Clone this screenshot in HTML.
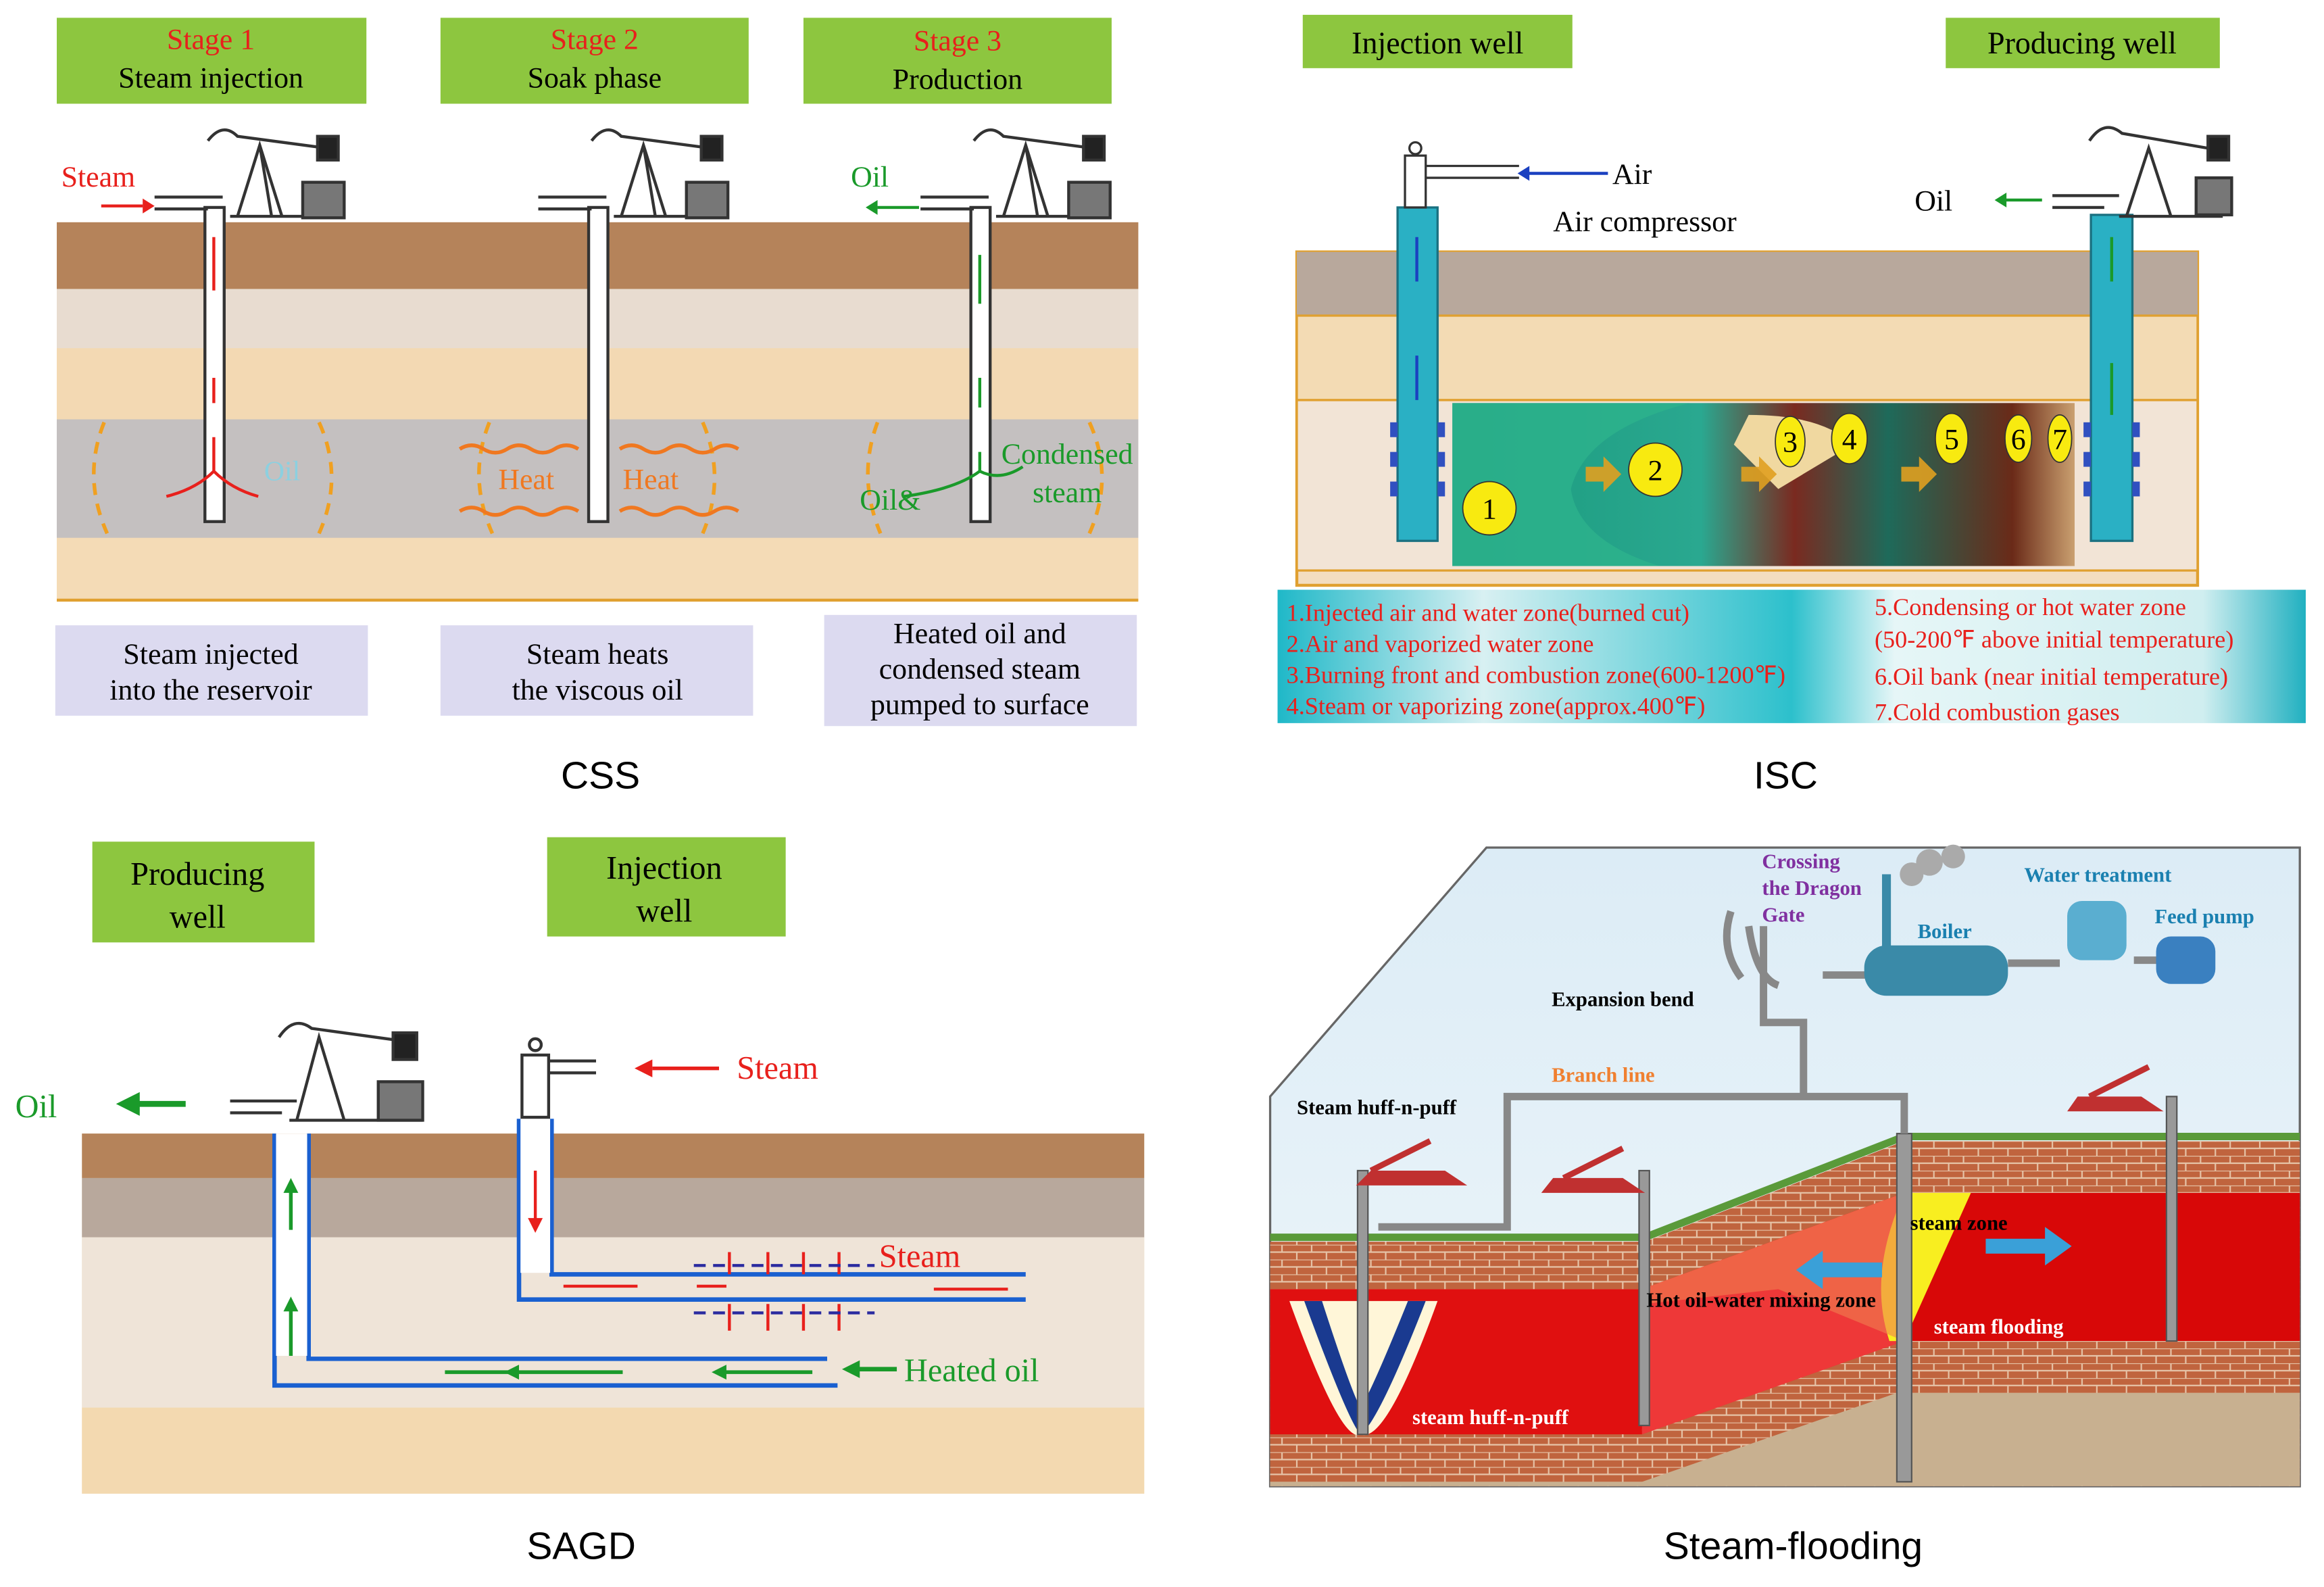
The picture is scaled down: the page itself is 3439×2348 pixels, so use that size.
<!DOCTYPE html>
<html><head><meta charset="utf-8"><style>
html,body{margin:0;padding:0;background:#fff}
svg{display:block}
text{font-family:"Liberation Serif",serif}
.s{font-family:"Liberation Sans",sans-serif}
</style></head><body>
<svg width="3439" height="2348" viewBox="0 0 1568 1071" xmlns="http://www.w3.org/2000/svg">
<defs>
<linearGradient id="leg" x1="0" x2="1"><stop offset="0" stop-color="#1fb8c8"/><stop offset="0.2" stop-color="#d8f0f2"/><stop offset="0.5" stop-color="#2cc0cc"/><stop offset="0.6" stop-color="#e6f6f7"/><stop offset="0.9" stop-color="#d0eef0"/><stop offset="1" stop-color="#20b0c0"/></linearGradient>
<linearGradient id="comb" x1="0" x2="1"><stop offset="0" stop-color="#1a9a7c"/><stop offset="0.4" stop-color="#2aa890"/><stop offset="0.55" stop-color="#7a2a20"/><stop offset="0.7" stop-color="#1e6a5a"/><stop offset="0.9" stop-color="#6a2a18"/><stop offset="1" stop-color="#caa070"/></linearGradient>
<pattern id="brick" width="20" height="10" patternUnits="userSpaceOnUse"><rect width="20" height="10" fill="#c0643e"/><path d="M0 0H20M0 5H20M5 0V5M15 5V10" stroke="#e6c4a8" stroke-width="1"/></pattern>
<linearGradient id="sky" x1="0" y1="0" x2="0" y2="1"><stop offset="0" stop-color="#dcecf6"/><stop offset="1" stop-color="#eef6fa"/></linearGradient>
</defs>
<rect width="1568" height="1071" fill="#fff"/>

<!-- ===== CSS ===== -->
<rect x="38" y="150" width="730" height="255" fill="#f3dcb8"/>
<rect x="38" y="150" width="730" height="45" fill="#b5835a"/>
<rect x="38" y="195" width="730" height="40" fill="#e8dcd0"/>
<rect x="38" y="235" width="730" height="48" fill="#f3d9b3"/>
<rect x="38" y="283" width="730" height="80" fill="#c4c0c0"/>
<rect x="38" y="363" width="730" height="42" fill="#f4dbb6"/>
<line x1="38" y1="405" x2="768" y2="405" stroke="#e0a030" stroke-width="2"/>
<g fill="#8dc63f"><rect x="38" y="12" width="209" height="58"/><rect x="297" y="12" width="208" height="58"/><rect x="542" y="12" width="208" height="58"/></g>
<g font-size="20" text-anchor="middle">
<text x="142" y="33" fill="#e8201c">Stage 1</text><text x="142" y="59">Steam injection</text>
<text x="401" y="33" fill="#e8201c">Stage 2</text><text x="401" y="59">Soak phase</text>
<text x="646" y="34" fill="#e8201c">Stage 3</text><text x="646" y="60">Production</text>
</g>
<g fill="#fff" stroke="#333" stroke-width="2">
<rect x="138" y="140" width="13" height="212"/><rect x="397" y="140" width="13" height="212"/><rect x="655" y="140" width="13" height="212"/>
</g>
<g stroke="#333" stroke-width="2" fill="none">
<path d="M104 133H150M104 141H140"/><path d="M363 133H409M363 141H399"/><path d="M621 133H667M621 141H657"/>
</g>
<g id="pj" stroke="#333" stroke-width="2" fill="none">
<path d="M155 146H230M160 146L175 98L190 146M175 98L183 146"/>
<path d="M140 95Q150 82 160 92L220 100"/>
<rect x="204" y="123" width="28" height="24" fill="#777"/>
<rect x="214" y="92" width="14" height="16" fill="#222"/>
</g>
<use href="#pj" x="259"/><use href="#pj" x="517"/>
<text x="41" y="126" font-size="20" fill="#e8201c">Steam</text>
<path d="M68 139H96" stroke="#e8201c" stroke-width="2"/><path d="M96 134L104 139L96 144Z" fill="#e8201c"/>
<text x="574" y="126" font-size="20" fill="#1a9a2a">Oil</text>
<path d="M592 140H620" stroke="#1a9a2a" stroke-width="2"/><path d="M592 135L584 140L592 145Z" fill="#1a9a2a"/>
<g stroke="#e8201c" stroke-width="2" fill="none"><path d="M144 160V196M144 255V272M144 295V318Q132 330 112 335M144 318Q156 330 174 335"/></g>
<g stroke="#1a9a2a" stroke-width="2" fill="none"><path d="M661 205V172M661 275V255M661 305V318Q645 330 610 335M661 318Q675 325 690 315"/></g>
<g stroke="#f0a020" stroke-width="2.5" fill="none" stroke-dasharray="8 6">
<path d="M70 285Q55 322 72 360M215 285Q232 322 215 360"/>
<path d="M330 285Q315 322 332 360M474 285Q490 322 474 360"/>
<path d="M592 285Q578 322 594 360M735 285Q752 322 735 360"/>
</g>
<g stroke="#f07820" stroke-width="2.5" fill="none">
<path d="M310 303q8-5 16 0t16 0t16 0t16 0t16 0M310 345q8-5 16 0t16 0t16 0t16 0t16 0"/>
<path d="M418 303q8-5 16 0t16 0t16 0t16 0t16 0M418 345q8-5 16 0t16 0t16 0t16 0t16 0"/>
</g>
<text x="178" y="324" font-size="19" fill="#8cd0e0">Oil</text>
<text x="336" y="330" font-size="20" fill="#f07820">Heat</text>
<text x="420" y="330" font-size="20" fill="#f07820">Heat</text>
<text x="580" y="344" font-size="20" fill="#1a9a2a">Oil&amp;</text>
<text x="720" y="313" font-size="20" fill="#1a9a2a" text-anchor="middle">Condensed</text>
<text x="720" y="339" font-size="20" fill="#1a9a2a" text-anchor="middle">steam</text>
<g fill="#dcdaf0"><rect x="37" y="422" width="211" height="61"/><rect x="297" y="422" width="211" height="61"/><rect x="556" y="415" width="211" height="75"/></g>
<g font-size="20" text-anchor="middle">
<text x="142" y="448">Steam injected</text><text x="142" y="472">into the reservoir</text>
<text x="403" y="448">Steam heats</text><text x="403" y="472">the viscous oil</text>
<text x="661" y="434">Heated oil and</text><text x="661" y="458">condensed steam</text><text x="661" y="482">pumped to surface</text>
</g>
<text class="s" x="405" y="532" font-size="26" text-anchor="middle">CSS</text>

<!-- ===== ISC ===== -->
<g fill="#8dc63f"><rect x="879" y="10" width="182" height="36"/><rect x="1313" y="12" width="185" height="34"/></g>
<text x="970" y="36" font-size="21" text-anchor="middle">Injection well</text>
<text x="1405" y="36" font-size="21" text-anchor="middle">Producing well</text>
<rect x="875" y="170" width="608" height="225" fill="#f3ddc0" stroke="#e0a030" stroke-width="2"/>
<rect x="875" y="170" width="608" height="43" fill="#b8a89c"/>
<rect x="875" y="213" width="608" height="57" fill="#f3dbb4" stroke="#e0a030" stroke-width="1.5"/>
<rect x="875" y="270" width="608" height="115" fill="#f2e4d6" stroke="#e0a030" stroke-width="1.5"/>
<rect x="980" y="272" width="420" height="110" fill="url(#comb)"/>
<path d="M980 272H1140Q1070 290 1060 330Q1065 365 1120 382H980Z" fill="#2db38c" opacity="0.8"/>
<path d="M1180 280Q1230 280 1250 300L1200 330L1170 300Z" fill="#f0d8a0"/>
<g fill="#2ab0c4" stroke="#1a7080" stroke-width="1.5"><rect x="943" y="140" width="27" height="225"/><rect x="1411" y="145" width="28" height="220"/></g>
<g fill="#3050c0"><rect x="938" y="285" width="5" height="10"/><rect x="938" y="305" width="5" height="10"/><rect x="938" y="325" width="5" height="10"/><rect x="970" y="285" width="5" height="10"/><rect x="970" y="305" width="5" height="10"/><rect x="970" y="325" width="5" height="10"/>
<rect x="1406" y="285" width="5" height="10"/><rect x="1406" y="305" width="5" height="10"/><rect x="1406" y="325" width="5" height="10"/><rect x="1439" y="285" width="5" height="10"/><rect x="1439" y="305" width="5" height="10"/><rect x="1439" y="325" width="5" height="10"/></g>
<g stroke="#333" stroke-width="1.5" fill="#fff"><rect x="948" y="105" width="14" height="35"/><path d="M962 112H1025M962 120H1025" fill="none"/><circle cx="955" cy="100" r="4"/></g>
<path d="M1030 117H1085" stroke="#1a40c0" stroke-width="2"/><path d="M1032 112L1024 117L1032 122Z" fill="#1a40c0"/>
<text x="1088" y="124" font-size="20">Air</text>
<text x="1048" y="156" font-size="20">Air compressor</text>
<g stroke="#333" stroke-width="2" fill="none"><path d="M1385 132H1430M1385 140H1420"/><path d="M1430 146H1500M1435 146L1450 100L1465 146M1410 95Q1420 80 1432 90L1490 100"/><rect x="1482" y="120" width="24" height="25" fill="#777"/><rect x="1490" y="92" width="14" height="16" fill="#222"/></g>
<text x="1292" y="142" font-size="20">Oil</text>
<path d="M1352 135H1378" stroke="#1a9a2a" stroke-width="2"/><path d="M1354 130L1346 135L1354 140Z" fill="#1a9a2a"/>
<g stroke="#1a40c0" stroke-width="2"><path d="M956 160V190M956 240V270"/></g>
<g stroke="#1a9a2a" stroke-width="2"><path d="M1425 190V160M1425 280V245"/></g>
<g fill="#e0a020" opacity="0.9"><path d="M1070 315h12v-7l12 12-12 12v-7h-12z"/><path d="M1175 315h12v-7l12 12-12 12v-7h-12z"/><path d="M1283 315h12v-7l12 12-12 12v-7h-12z"/></g>
<g fill="#f8ea10" stroke="#333" stroke-width="0.8"><circle cx="1005" cy="343" r="18"/><circle cx="1117" cy="317" r="18"/><ellipse cx="1208" cy="298" rx="10" ry="17"/><ellipse cx="1248" cy="296" rx="12" ry="17"/><ellipse cx="1317" cy="296" rx="11" ry="17"/><ellipse cx="1362" cy="296" rx="9" ry="16"/><ellipse cx="1390" cy="296" rx="8" ry="16"/></g>
<g font-size="20" text-anchor="middle"><text x="1005" y="350">1</text><text x="1117" y="324">2</text><text x="1208" y="305">3</text><text x="1248" y="303">4</text><text x="1317" y="303">5</text><text x="1362" y="303">6</text><text x="1390" y="303">7</text></g>
<rect x="862" y="398" width="694" height="90" fill="url(#leg)"/>
<g font-size="16.5" fill="#e8201c">
<text x="868" y="419">1.Injected air and water zone(burned cut)</text>
<text x="868" y="440">2.Air and vaporized water zone</text>
<text x="868" y="461">3.Burning front and combustion zone(600-1200℉)</text>
<text x="868" y="482">4.Steam or vaporizing zone(approx.400℉)</text>
<text x="1265" y="415">5.Condensing or hot water zone</text>
<text x="1265" y="437">(50-200℉ above initial temperature)</text>
<text x="1265" y="462">6.Oil bank (near initial temperature)</text>
<text x="1265" y="486">7.Cold combustion gases</text>
</g>
<text class="s" x="1205" y="532" font-size="26" text-anchor="middle">ISC</text>

<!-- ===== SAGD ===== -->
<g fill="#8dc63f"><rect x="62" y="568" width="150" height="68"/><rect x="369" y="565" width="161" height="67"/></g>
<g font-size="22" text-anchor="middle"><text x="133" y="597">Producing</text><text x="133" y="626">well</text><text x="448" y="593">Injection</text><text x="448" y="622">well</text></g>
<rect x="55" y="765" width="717" height="243" fill="#f3dcb8"/>
<rect x="55" y="765" width="717" height="30" fill="#b5835a"/>
<rect x="55" y="795" width="717" height="40" fill="#b8a89c"/>
<rect x="55" y="835" width="717" height="115" fill="#efe4d8"/>
<rect x="55" y="950" width="717" height="58" fill="#f3d9b0"/>
<g fill="none" stroke="#1a60d0" stroke-width="3">
<path d="M185 765V935H565M208 765V917H558"/>
<path d="M350 755V877H692M372 755V860H692"/>
</g>
<rect x="186" y="765" width="21" height="150" fill="#fff"/>
<rect x="351" y="755" width="20" height="104" fill="#fff"/>
<g stroke="#333" stroke-width="2" fill="none"><path d="M155 743H200M155 751H190"/><path d="M195 756H285M200 756L215 700L232 756M188 700Q198 685 210 694L275 703"/><rect x="255" y="730" width="30" height="26" fill="#777"/><rect x="265" y="697" width="16" height="18" fill="#222"/></g>
<g stroke="#333" stroke-width="2" fill="#fff"><rect x="352" y="712" width="18" height="42"/><path d="M370 716H402M370 724H402" fill="none"/><circle cx="361" cy="705" r="4"/></g>
<text x="10" y="754" font-size="22" fill="#1a9a2a">Oil</text>
<path d="M92 745H125" stroke="#1a9a2a" stroke-width="4"/><path d="M94 737L78 745L94 753Z" fill="#1a9a2a"/>
<text x="497" y="728" font-size="22" fill="#e8201c">Steam</text>
<path d="M440 721H485" stroke="#e8201c" stroke-width="2.5"/><path d="M440 715L428 721L440 727Z" fill="#e8201c"/>
<g stroke="#1a9a2a" stroke-width="2.5"><path d="M196 830V800M196 915V880M300 926H400M360 926H420M485 926H548"/></g>
<g fill="#1a9a2a"><path d="M191 805L196 795L201 805Z"/><path d="M191 885L196 875L201 885Z"/><path d="M350 921L340 926L350 931Z"/><path d="M490 921L480 926L490 931Z"/></g>
<text x="610" y="932" font-size="22" fill="#1a9a2a">Heated oil</text>
<path d="M578 924H605" stroke="#1a9a2a" stroke-width="3"/><path d="M580 918L568 924L580 930Z" fill="#1a9a2a"/>
<g stroke="#e8201c" stroke-width="2"><path d="M361 790V825M380 868H430M470 868H490M630 870H680"/></g>
<path d="M356 822L361 832L366 822Z" fill="#e8201c"/>
<g stroke="#e8201c" stroke-width="2"><path d="M492 860V845M518 860V845M542 860V845M566 860V845M492 880V898M518 880V898M542 880V898M566 880V898"/></g>
<g stroke="#2a2aa0" stroke-width="2" stroke-dasharray="8 5"><path d="M468 854H590M468 886H590"/></g>
<text x="593" y="855" font-size="22" fill="#e8201c">Steam</text>
<text class="s" x="392" y="1052" font-size="26" text-anchor="middle">SAGD</text>

<!-- ===== Steam flooding ===== -->
<path d="M857 740L1003 572H1552V1003H857Z" fill="url(#sky)" stroke="#666" stroke-width="1.5"/>
<path d="M857 838L1110 838L1285 770L1552 770V1003H857Z" fill="url(#brick)"/>
<path d="M857 870H1108V968H857Z" fill="#e01010"/>
<path d="M1108 870L1285 805H1552V905L1285 905L1108 968Z" fill="#d80808"/>
<path d="M1108 870L1285 805L1285 905L1108 968Z" fill="#ee3838"/>
<path d="M1285 805Q1260 860 1275 905L1285 905L1330 805Z" fill="#f8ee20"/>
<path d="M1285 805L1285 905L1200 870L1110 880L1108 870Z" fill="#f08050" opacity="0.6"/>
<path d="M857 968H1108L1285 905H1552V925H1300L1280 940L1108 1000H857Z" fill="url(#brick)"/>
<path d="M1108 1000L1280 940H1552V1003H857V1000Z" fill="#c8b090"/>
<path d="M870 878Q905 975 918 968Q935 975 970 878Z" fill="#fff6d8"/>
<path d="M880 878Q910 960 918 968Q930 960 962 878L950 878Q925 940 918 950Q912 940 892 878Z" fill="#1a3a90"/>
<path d="M857 835H1110L1285 767H1552" stroke="#5a9a3a" stroke-width="5" fill="none"/>
<g fill="#999" stroke="#555" stroke-width="1"><rect x="916" y="790" width="7" height="178"/><rect x="1106" y="790" width="7" height="172"/><rect x="1280" y="765" width="10" height="235"/><rect x="1462" y="740" width="7" height="165"/></g>
<g fill="none" stroke="#888" stroke-width="5"><path d="M930 828H1017V740H1285V765"/><path d="M1217 740V690H1190V625"/><path d="M1230 658H1260M1168 615Q1160 640 1175 660M1180 625Q1185 660 1200 665"/><path d="M1355 650H1390M1440 648H1458"/></g>
<g fill="#c03030"><path d="M915 800H990L975 790H925Z"/><path d="M1040 805H1110L1095 795H1048Z"/><path d="M1395 750H1460L1445 740H1402Z"/></g>
<g stroke="#c03030" stroke-width="4"><path d="M925 790L965 770M1055 795L1095 775M1410 740L1450 720"/></g>
<rect x="1258" y="638" width="97" height="34" rx="15" fill="#3a8aa8"/>
<rect x="1270" y="590" width="6" height="50" fill="#3a8aa8"/>
<rect x="1395" y="608" width="40" height="40" rx="10" fill="#5aaed0"/>
<rect x="1455" y="632" width="40" height="32" rx="10" fill="#3a80c0"/>
<g fill="#aaa"><circle cx="1290" cy="590" r="8"/><circle cx="1302" cy="582" r="9"/><circle cx="1318" cy="578" r="8"/></g>
<g font-size="14" font-weight="bold">
<text x="1189" y="586" fill="#8030a0">Crossing</text><text x="1189" y="604" fill="#8030a0">the Dragon</text><text x="1189" y="622" fill="#8030a0">Gate</text>
<text x="1366" y="595" fill="#1a80b0">Water treatment</text>
<text x="1454" y="623" fill="#1a80b0">Feed pump</text>
<text x="1294" y="633" fill="#1a80b0">Boiler</text>
<text x="1047" y="679">Expansion bend</text>
<text x="1047" y="730" fill="#f08030">Branch line</text>
<text x="875" y="752">Steam huff-n-puff</text>
<text x="1289" y="830">steam zone</text>
<text x="1111" y="882">Hot oil-water mixing zone</text>
<text x="1305" y="900" fill="#fff">steam flooding</text>
<text x="953" y="961" fill="#fff">steam huff-n-puff</text>
</g>
<g fill="#3aa0d8"><path d="M1230 852h40v10h-40v8l-18-13 18-13z"/><path d="M1340 836h40v-8l18 13-18 13v-8h-40z"/></g>
<text class="s" x="1210" y="1052" font-size="26" text-anchor="middle">Steam-flooding</text>
</svg>
</body></html>
